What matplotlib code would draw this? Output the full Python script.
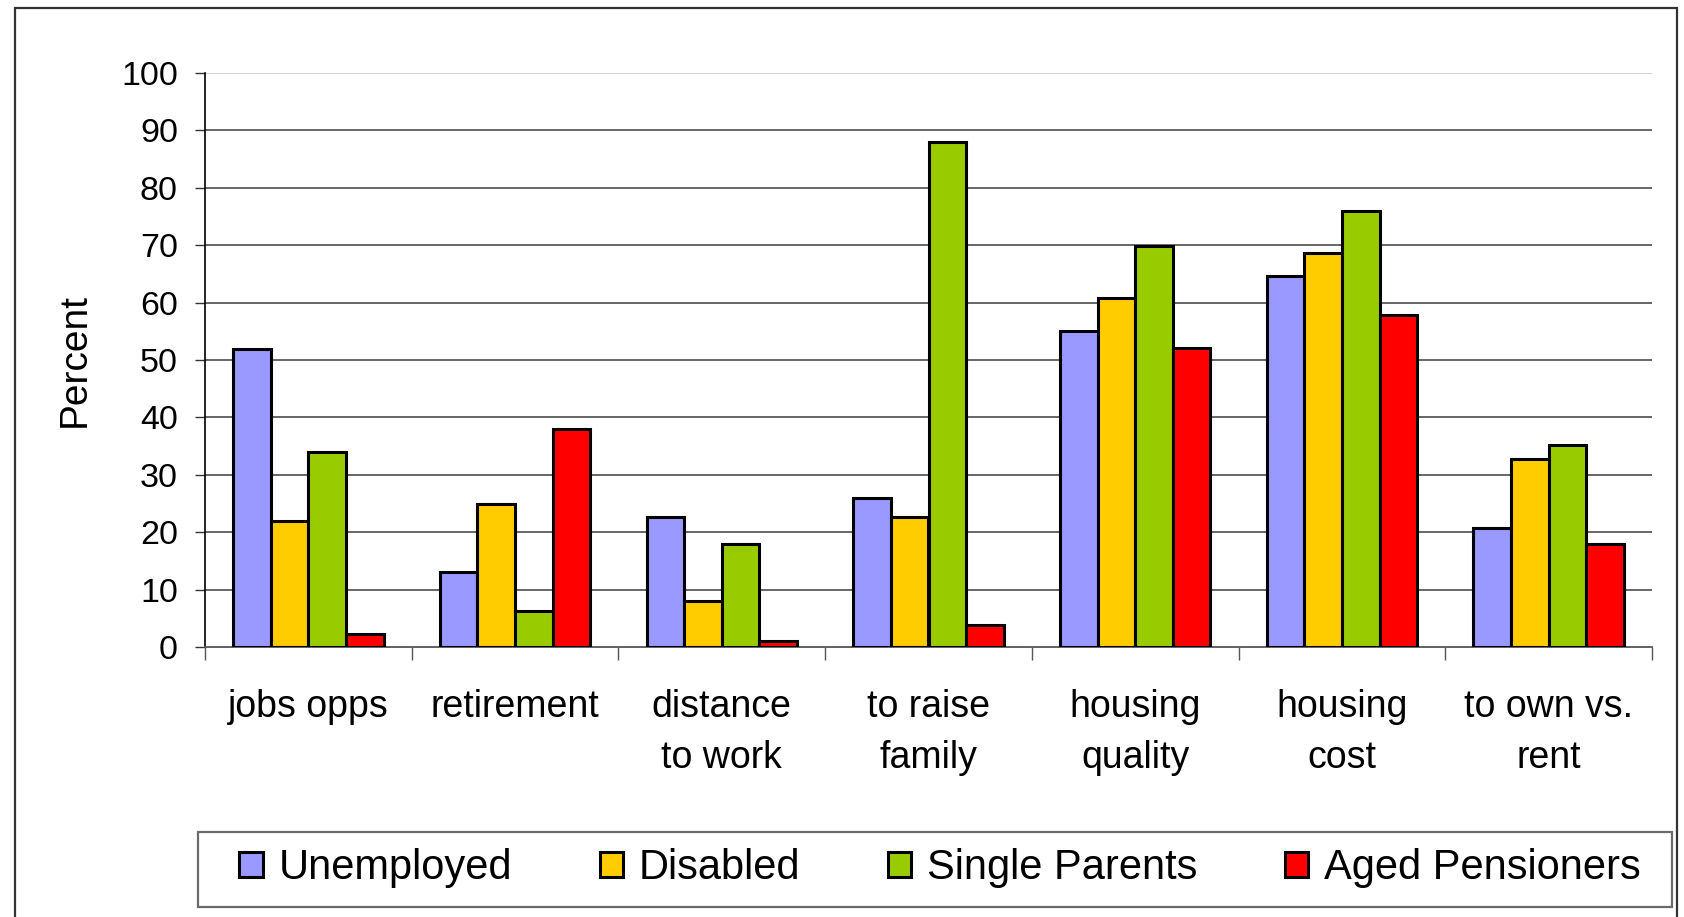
import numpy as np
import matplotlib
matplotlib.use("Agg")
import matplotlib.pyplot as plt
from matplotlib.patches import Rectangle

plt.rcParams['font.family'] = ['Liberation Sans', 'DejaVu Sans']

# data
categories = ["jobs opps", "retirement", "distance\nto work", "to raise\nfamily",
              "housing\nquality", "housing\ncost", "to own vs.\nrent"]
series_names = ["Unemployed", "Disabled", "Single Parents", "Aged Pensioners"]
unemployed = [52, 13, 22.7, 26, 55, 64.7, 20.8]
disabled = [22, 25, 8, 22.7, 60.8, 68.7, 32.8]
single_parents = [34, 6.2, 18, 88, 69.8, 76, 35.2]
aged_pensioners = [2.2, 38, 1, 3.8, 52.1, 57.8, 18]
yticks = [0, 10, 20, 30, 40, 50, 60, 70, 80, 90, 100]

colors = ["#9999FF", "#FFCC00", "#99CC00", "#FF0000"]

W, H = 1684, 917
fig = plt.figure(figsize=(W / 100, H / 100), dpi=100)
ax = fig.add_axes([205 / W, 1 - 647 / H, (1652 - 205) / W, (647 - 73) / H])

x = np.arange(len(categories))
bar_w = 0.182
all_series = [unemployed, disabled, single_parents, aged_pensioners]
bars = []
for i, vals in enumerate(all_series):
    b = ax.bar(x + (i - 1.5) * bar_w, vals, width=bar_w, color=colors[i],
               edgecolor="black", linewidth=2.2, label=series_names[i], zorder=3)
    bars.append(b)

# horizontal gridlines
for v in yticks[1:]:
    c = "#d0d0d0" if v == yticks[-1] else "#5a5a5a"
    ax.axhline(v, color=c, linewidth=1.3, zorder=1)

ax.set_xlim(-0.5, len(categories) - 0.5)
ax.set_ylim(0, 100)
ax.set_yticks(yticks)
ax.tick_params(axis="y", length=7.5, width=1.0, color="#333333", pad=12, labelsize=24.5)

ax.set_xticks(x)
ax.set_xticklabels(categories, fontsize=27, linespacing=1.55)
ax.set_xticks(np.arange(len(categories) + 1) - 0.5, minor=True)
ax.tick_params(axis="x", which="major", length=0, pad=30)
ax.tick_params(axis="x", which="minor", length=9.5, width=1.0, color="#555555")

for s in ["top", "right"]:
    ax.spines[s].set_visible(False)
ax.spines["left"].set_color("black")
ax.spines["left"].set_linewidth(1.2)
ax.spines["bottom"].set_color("#555555")
ax.spines["bottom"].set_linewidth(1.3)

fig.text(75 / W, 1 - 360 / H, "Percent", rotation=90, fontsize=28,
         ha="center", va="center")

# legend box
fig.patches.append(Rectangle((198 / W, 1 - 907 / H), (1672 - 198) / W, 75 / H,
                             transform=fig.transFigure, fill=False,
                             edgecolor="#6a6a6a", linewidth=1.6))
fig.legend(handles=bars, labels=series_names, loc="center",
           bbox_to_anchor=(940 / W, 1 - 868 / H), ncol=4, frameon=False,
           fontsize=30, handlelength=0.56, handleheight=0.56,
           handletextpad=0.38, columnspacing=2.1)

# outer border
fig.patches.append(Rectangle((15 / W, -0.05), (1677 - 15) / W, 1.05 - 8 / H,
                             transform=fig.transFigure, fill=False,
                             edgecolor="#333333", linewidth=1.6))

fig.savefig("out.png", dpi=100)
